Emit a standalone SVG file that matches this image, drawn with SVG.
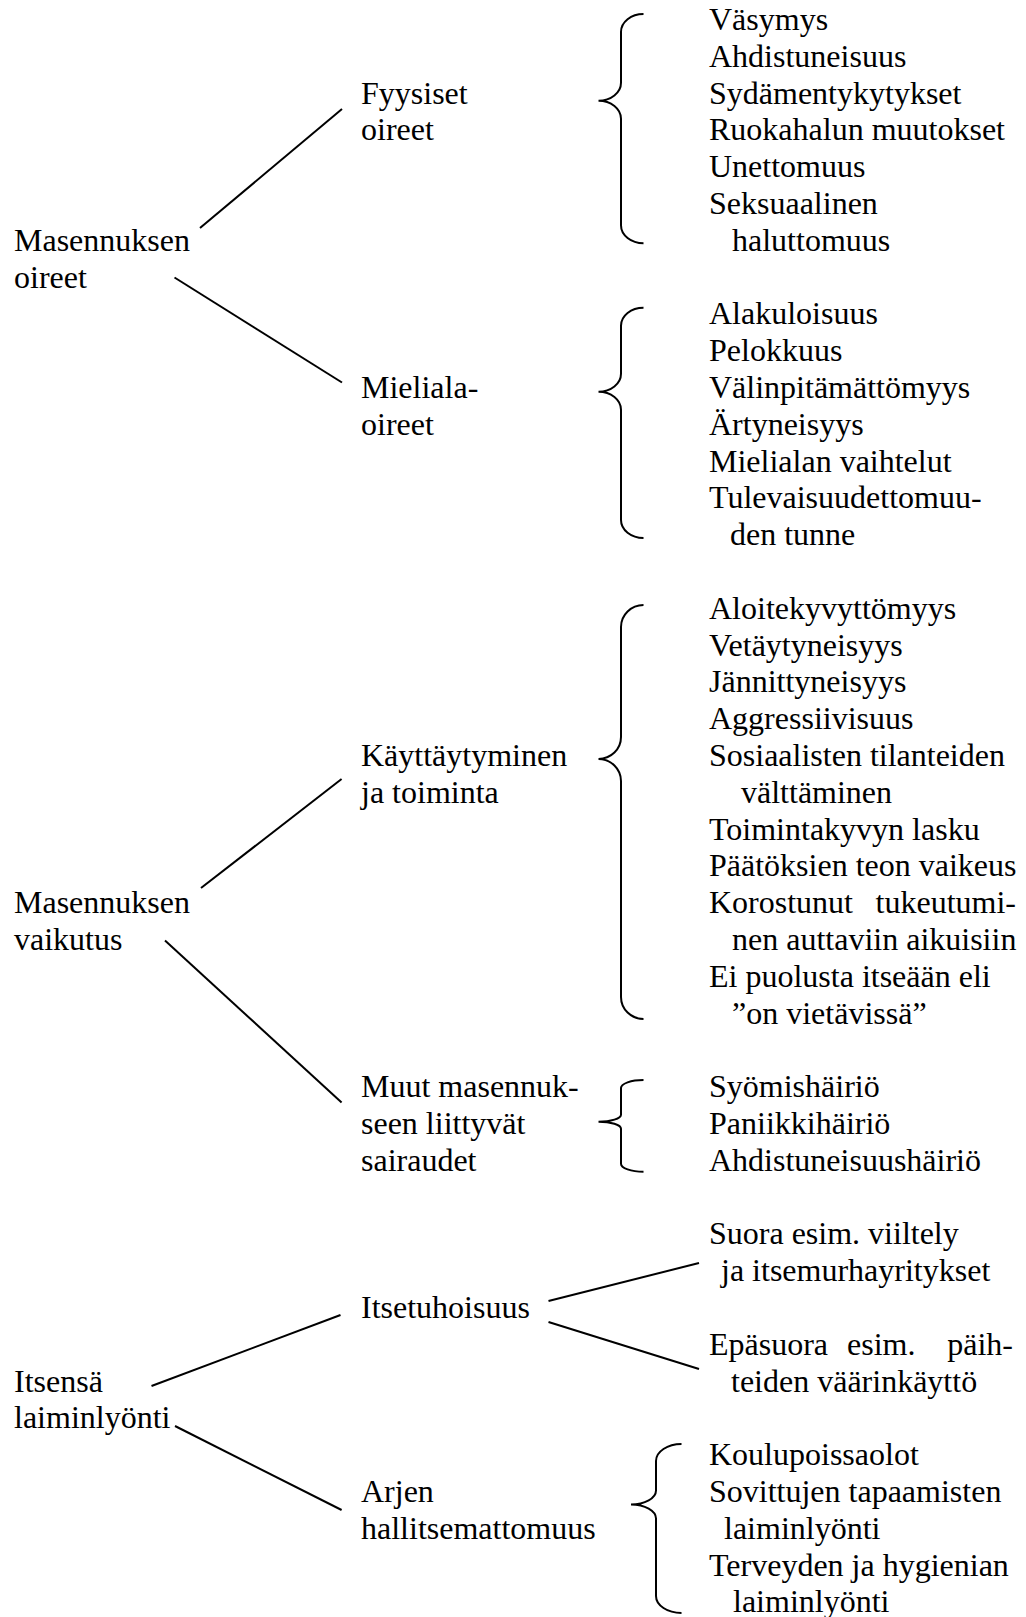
<svg xmlns="http://www.w3.org/2000/svg" width="1026" height="1617" viewBox="0 0 1026 1617">
<style>
text { font-family: "Liberation Serif", "Times New Roman", serif; font-size: 32px; fill: #000; }
.c { fill: none; stroke: #000; stroke-width: 2; stroke-linecap: butt; }
</style>
<rect x="0" y="0" width="1026" height="1617" fill="#fff"/>
<g id="connectors">
  <line class="c" x1="200" y1="228" x2="342" y2="109"/>
  <line class="c" x1="174.5" y1="277.5" x2="342" y2="382.5"/>
  <line class="c" x1="201" y1="888" x2="341.6" y2="779"/>
  <line class="c" x1="165" y1="940.5" x2="341.6" y2="1102.5"/>
  <line class="c" x1="151.5" y1="1386" x2="340.5" y2="1315"/>
  <line class="c" x1="175" y1="1426" x2="341.6" y2="1510"/>
  <line class="c" x1="548.5" y1="1301" x2="699" y2="1263"/>
  <line class="c" x1="548.5" y1="1322" x2="699" y2="1369"/>
  <path class="c" d="M643.5,14 A22.5,18 0 0 0 621,32 V82.7 A22.5,18 0 0 1 598.5,100.7 A22.5,18 0 0 1 621,118.7 V225.3 A22.5,18 0 0 0 643.5,243.3"/>
  <path class="c" d="M643.5,307.7 A22.5,18 0 0 0 621,325.7 V373.7 A22.5,18 0 0 1 598.5,391.7 A22.5,18 0 0 1 621,409.7 V520 A22.5,18 0 0 0 643.5,538"/>
  <path class="c" d="M643.5,605 A22.5,22 0 0 0 621,627 V737 A22.5,22 0 0 1 598.5,759 A22.5,22 0 0 1 621,781 V997 A22.5,22 0 0 0 643.5,1019"/>
  <path class="c" d="M643.5,1080 A22.5,8 0 0 0 621,1088 V1114.7 A22.5,7 0 0 1 598.5,1121.7 A22.5,7 0 0 1 621,1128.7 V1163.7 A22.5,8 0 0 0 643.5,1171.7"/>
  <path class="c" d="M681.5,1444 A25.5,17 0 0 0 656,1461 V1490.5 A25,14 0 0 1 631,1504.5 A25,14 0 0 1 656,1518.5 V1596 A25.5,17 0 0 0 681.5,1613"/>
</g>
<g id="masennuksen-oireet"><text x="14" y="250.8">Masennuksen<tspan x="14" y="287.6">oireet</tspan></text></g>
<g id="fyysiset-oireet"><text x="361" y="103.6">Fyysiset<tspan x="361" y="140.4">oireet</tspan></text></g>
<g id="mieliala-oireet"><text x="361" y="398">Mieliala-<tspan x="361" y="434.8">oireet</tspan></text></g>
<g id="fyysiset-lista"><text x="709" y="30">Väsymys<tspan x="709" y="66.8">Ahdistuneisuus</tspan><tspan x="709" y="103.6">Sydämentykytykset</tspan><tspan x="709" y="140.4">Ruokahalun muutokset</tspan><tspan x="709" y="177.2">Unettomuus</tspan><tspan x="709" y="214">Seksuaalinen</tspan><tspan x="732" y="250.8">haluttomuus</tspan></text></g>
<g id="mieliala-lista"><text x="709" y="324.4">Alakuloisuus<tspan x="709" y="361.2">Pelokkuus</tspan><tspan x="709" y="398">Välinpitämättömyys</tspan><tspan x="709" y="434.8">Ärtyneisyys</tspan><tspan x="709" y="471.6">Mielialan vaihtelut</tspan><tspan x="709" y="508.4">Tulevaisuudettomuu-</tspan><tspan x="730" y="545.2">den tunne</tspan></text></g>
<g id="masennuksen-vaikutus"><text x="14" y="913.2">Masennuksen<tspan x="14" y="950">vaikutus</tspan></text></g>
<g id="kayttaytyminen"><text x="361" y="766">Käyttäytyminen<tspan x="361" y="802.8">ja toiminta</tspan></text></g>
<g id="kayttaytyminen-lista"><text x="709" y="618.8">Aloitekyvyttömyys<tspan x="709" y="655.6">Vetäytyneisyys</tspan><tspan x="709" y="692.4">Jännittyneisyys</tspan><tspan x="709" y="729.2">Aggressiivisuus</tspan><tspan x="709" y="766">Sosiaalisten tilanteiden</tspan><tspan x="741" y="802.8">välttäminen</tspan><tspan x="709" y="839.6">Toimintakyvyn lasku</tspan><tspan x="709" y="876.4">Päätöksien teon vaikeus</tspan><tspan x="709" y="913.2">Korostunut</tspan><tspan x="1016" y="913.2" text-anchor="end">tukeutumi-</tspan><tspan x="732" y="950">nen auttaviin aikuisiin</tspan><tspan x="709" y="986.8">Ei puolusta itseään eli</tspan><tspan x="732" y="1023.6">”on vietävissä”</tspan></text></g>
<g id="muut-sairaudet"><text x="361" y="1097.2">Muut masennuk-<tspan x="361" y="1134">seen liittyvät</tspan><tspan x="361" y="1170.8">sairaudet</tspan></text></g>
<g id="muut-lista"><text x="709" y="1097.2">Syömishäiriö<tspan x="709" y="1134">Paniikkihäiriö</tspan><tspan x="709" y="1170.8">Ahdistuneisuushäiriö</tspan></text></g>
<g id="itsensa-laiminlyonti"><text x="14" y="1391.6">Itsensä<tspan x="14" y="1428.4">laiminlyönti</tspan></text></g>
<g id="itsetuhoisuus"><text x="361" y="1318">Itsetuhoisuus</text></g>
<g id="suora"><text x="709" y="1244.4">Suora esim. viiltely<tspan x="721" y="1281.2">ja itsemurhayritykset</tspan></text></g>
<g id="epasuora"><text x="709" y="1354.8">Epäsuora<tspan x="847" y="1354.8">esim.</tspan><tspan x="1013" y="1354.8" text-anchor="end">päih-</tspan><tspan x="731" y="1391.6">teiden väärinkäyttö</tspan></text></g>
<g id="arjen-hallitsemattomuus"><text x="361" y="1502">Arjen<tspan x="361" y="1538.8">hallitsemattomuus</tspan></text></g>
<g id="arjen-lista"><text x="709" y="1465.2">Koulupoissaolot<tspan x="709" y="1502">Sovittujen tapaamisten</tspan><tspan x="724" y="1538.8">laiminlyönti</tspan><tspan x="709" y="1575.6">Terveyden ja hygienian</tspan><tspan x="733" y="1612.4">laiminlyönti</tspan></text></g>
</svg>
